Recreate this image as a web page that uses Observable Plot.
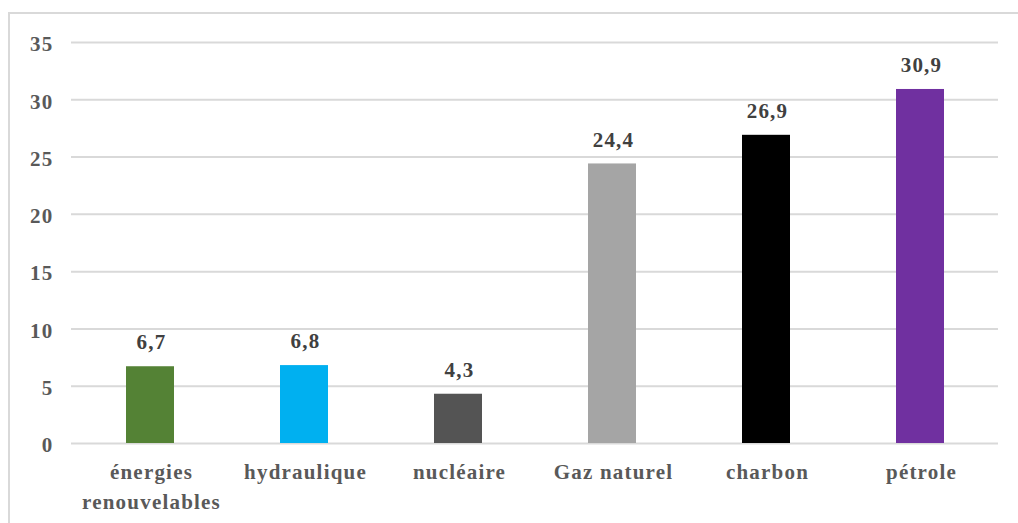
<!DOCTYPE html>
<html>
<head>
<meta charset="utf-8">
<script src="https://cdn.jsdelivr.net/npm/d3@7"></script>
<script src="https://cdn.jsdelivr.net/npm/@observablehq/plot@0.6"></script>
<style>
  html, body { margin: 0; padding: 0; background: #fff; }
  #wrap { position: relative; width: 1018px; height: 523px; overflow: hidden; }
  #frame { position: absolute; left: 8px; top: 12px; width: 1100px; height: 600px; border: 2px solid #d9d9d9; box-sizing: border-box; pointer-events: none; }
  svg { position: absolute; left: 0; top: 0; }
  svg text { letter-spacing: 1.2px; }
</style>
</head>
<body>
<div id="wrap"><div id="frame"></div></div>
<script>
const categories = ["énergies\nrenouvelables", "hydraulique", "nucléaire", "Gaz naturel", "charbon", "pétrole"];
const values = [6.7, 6.8, 4.3, 24.4, 26.9, 30.9];
const colors = ["#548235", "#00b0f0", "#545454", "#a5a5a5", "#000000", "#7030a0"];
const yTicks = [0, 5, 10, 15, 20, 25, 30, 35];

const data = categories.map((c, i) => ({cat: c, value: values[i], color: colors[i]}));
const fmt = v => String(v).replace(".", ",");

const chart = Plot.plot({
  width: 1018,
  height: 523,
  marginLeft: 71,
  marginRight: 20,
  marginTop: 42,
  marginBottom: 80,
  style: {fontFamily: "'Liberation Serif', 'Times New Roman', serif", fontWeight: "bold", background: "transparent"},
  x: {domain: categories, paddingInner: 0.69, paddingOuter: 0.345, label: null},
  y: {domain: [0, 35], ticks: yTicks, label: null},
  marks: [
    Plot.ruleY(yTicks, {stroke: "#d9d9d9", strokeWidth: 2}),
    Plot.barY(data, {x: "cat", y: "value", fill: "color"}),
    Plot.text(data, {x: "cat", y: "value", text: d => fmt(d.value), dy: -24, dx: 1, fontSize: 21, fill: "#404040", fontWeight: "bold"}),
    Plot.axisY(yTicks, {tickSize: 0, tickPadding: 18, dy: 2, fontSize: 21, fill: "#595959"}),
    Plot.axisX({tickSize: 0, tickPadding: 15, dx: 1, fontSize: 21, fill: "#595959", lineHeight: 1.4})
  ]
});
document.getElementById("wrap").insertBefore(chart, document.getElementById("frame"));
</script>
</body>
</html>
